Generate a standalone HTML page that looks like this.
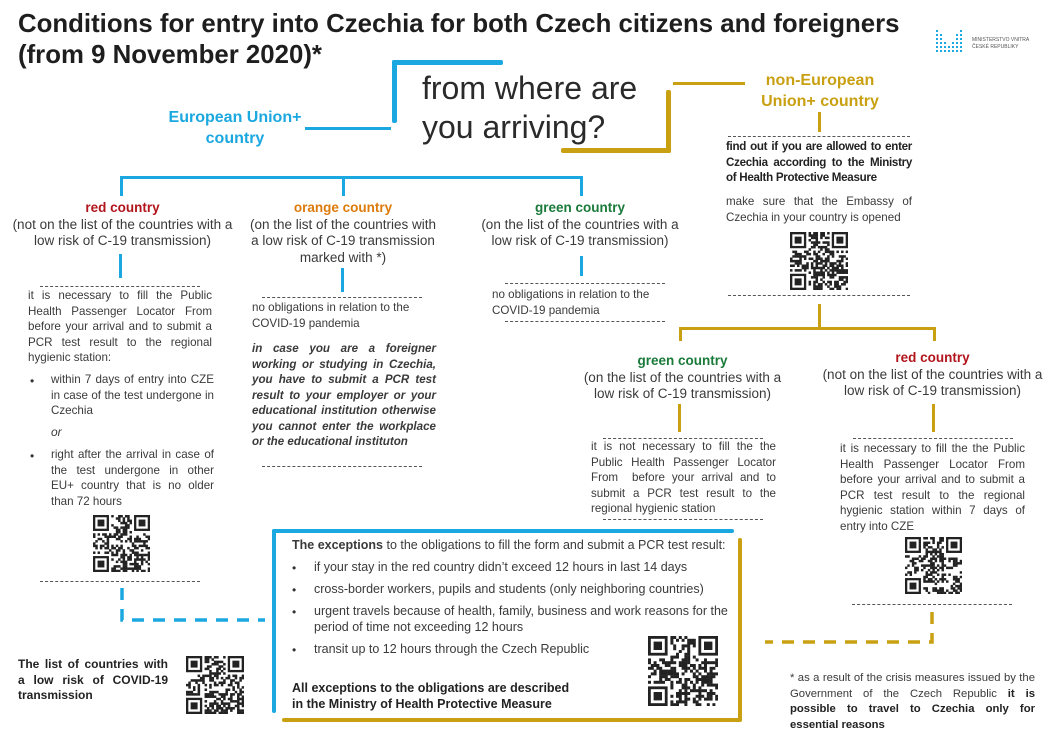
<!DOCTYPE html>
<html><head><meta charset="utf-8">
<style>
*{margin:0;padding:0;box-sizing:border-box}
body{width:1058px;height:742px;background:#fff;position:relative;overflow:hidden;font-family:"Liberation Sans",sans-serif;color:#333}
.a{position:absolute}
.ln{position:absolute}
.b{background:#1ba8e0}
.g{background:#c9a012}
.t{position:absolute;font-size:11.6px;line-height:15.5px;color:#3a3a3a;text-align:justify}
.h{position:absolute;text-align:center;font-size:13.5px;line-height:16.5px;color:#3a3a3a}
.h b{font-size:13.5px}
.d{position:absolute;border-top:1px dashed #555;height:0}
.red{color:#b2141c}.or{color:#dc7a0c}.gr{color:#1a7a3a}
.qr{position:absolute}
</style></head><body>

<div class="a" style="left:18px;top:9px;font-size:25.8px;line-height:31px;font-weight:bold;color:#1e1e1e;white-space:nowrap">Conditions for entry into Czechia for both Czech citizens and foreigners<br>(from 9 November 2020)*</div>

<!-- logo -->
<svg class="a" style="left:935px;top:28px" width="30" height="28">
<g fill="#1ba8e0">
<rect x="1" y="2" width="2" height="2"/><rect x="1" y="6" width="2" height="2"/><rect x="1" y="10" width="2" height="2"/><rect x="1" y="14" width="2" height="2"/><rect x="1" y="18" width="2" height="2"/><rect x="1" y="22" width="2" height="2"/>
<rect x="5" y="6" width="2" height="2"/><rect x="5" y="10" width="2" height="2"/><rect x="5" y="14" width="2" height="2"/><rect x="5" y="18" width="2" height="2"/><rect x="5" y="22" width="2" height="2"/>
<rect x="9" y="14" width="2" height="2"/><rect x="9" y="18" width="2" height="2"/><rect x="9" y="22" width="2" height="2"/>
<rect x="13" y="18" width="2" height="2"/><rect x="13" y="22" width="2" height="2"/>
<rect x="17" y="14" width="2" height="2"/><rect x="17" y="18" width="2" height="2"/><rect x="17" y="22" width="2" height="2"/>
<rect x="21" y="6" width="2" height="2"/><rect x="21" y="10" width="2" height="2"/><rect x="21" y="14" width="2" height="2"/><rect x="21" y="18" width="2" height="2"/><rect x="21" y="22" width="2" height="2"/>
<rect x="25" y="2" width="2" height="2"/><rect x="25" y="6" width="2" height="2"/><rect x="25" y="10" width="2" height="2"/><rect x="25" y="14" width="2" height="2"/><rect x="25" y="18" width="2" height="2"/><rect x="25" y="22" width="2" height="2"/>
</g></svg>
<div class="a" style="left:972px;top:37px;font-size:5px;line-height:7px;color:#555">MINISTERSTVO VNITRA<br>ČESKÉ REPUBLIKY</div>

<!-- center question -->
<div class="ln b" style="left:392px;top:60px;width:111px;height:5px;border-radius:2px"></div>
<div class="ln b" style="left:392px;top:60px;width:5px;height:63px;border-radius:2px"></div>
<div class="ln b" style="left:305px;top:127px;width:86px;height:3px"></div>
<div class="a" style="left:422px;top:69px;font-size:32px;line-height:39px;color:#2a2a2a">from where are<br>you arriving?</div>
<div class="ln g" style="left:673px;top:82px;width:72px;height:3px"></div>
<div class="ln g" style="left:666px;top:90px;width:5px;height:63px;border-radius:2px"></div>
<div class="ln g" style="left:561px;top:148px;width:110px;height:5px;border-radius:2px"></div>

<div class="a" style="left:140px;top:107px;width:190px;text-align:center;font-size:16px;line-height:21px;font-weight:bold;color:#1ba8e0">European Union+<br>country</div>
<div class="a" style="left:720px;top:70px;width:200px;text-align:center;font-size:16px;line-height:21px;font-weight:bold;color:#c9a012">non-European<br>Union+ country</div>

<!-- blue tree -->
<div class="ln b" style="left:120px;top:176px;width:463px;height:3px"></div>
<div class="ln b" style="left:120px;top:176px;width:3px;height:20px"></div>
<div class="ln b" style="left:342px;top:176px;width:3px;height:20px"></div>
<div class="ln b" style="left:580px;top:176px;width:3px;height:20px"></div>

<div class="h" style="left:5px;top:200px;width:235px"><b class="red">red country</b><br>(not on the list of the countries with a low risk of C-19 transmission)</div>
<div class="h" style="left:240px;top:200px;width:206px"><b class="or">orange country</b><br>(on the list of the countries with a&nbsp;low&nbsp;risk&nbsp;of&nbsp;C-19&nbsp;transmission marked with *)</div>
<div class="h" style="left:475px;top:200px;width:210px"><b class="gr">green country</b><br>(on the list of the countries with a low risk of C-19 transmission)</div>

<div class="ln b" style="left:119px;top:254px;width:3px;height:24px"></div>
<div class="ln b" style="left:341px;top:268px;width:3px;height:24px"></div>
<div class="ln b" style="left:580px;top:256px;width:3px;height:20px"></div>

<div class="d" style="left:40px;top:286px;width:160px"></div>
<div class="t" style="left:28px;top:288px;width:184px">it is necessary to fill the Public Health Passenger Locator From before your arrival and to submit a PCR test result to the regional hygienic station:</div>
<div class="a" style="left:30px;top:374px;font-size:12px">•</div>
<div class="t" style="left:51px;top:372px;width:163px">within 7 days of entry into CZE in case of the test undergone in Czechia</div>
<div class="a" style="left:51px;top:425px;font-size:12px;font-style:italic;color:#3a3a3a">or</div>
<div class="a" style="left:30px;top:449px;font-size:12px">•</div>
<div class="t" style="left:51px;top:447px;width:163px">right after the arrival in case of the test undergone in other EU+ country that is no older than 72 hours</div>
<div class="d" style="left:40px;top:581px;width:160px"></div>

<div class="d" style="left:262px;top:297px;width:160px"></div>
<div class="t" style="left:252px;top:300px;width:186px;text-align:left">no obligations in relation to the COVID-19 pandemia</div>
<div class="t" style="left:252px;top:341px;width:184px;font-weight:bold;font-style:italic;font-size:11.6px">in case you are a foreigner working or studying in Czechia, you have to submit a PCR test result to your employer or your educational institution otherwise you cannot enter the workplace or the educational instituton</div>
<div class="d" style="left:262px;top:466px;width:160px"></div>

<div class="d" style="left:505px;top:283px;width:160px"></div>
<div class="t" style="left:492px;top:287px;width:190px;text-align:left">no obligations in relation to the COVID-19 pandemia</div>
<div class="d" style="left:505px;top:321px;width:160px"></div>

<!-- non-EU side -->
<div class="ln g" style="left:818px;top:112px;width:3px;height:20px"></div>
<div class="d" style="left:728px;top:136px;width:182px"></div>
<div class="t" style="left:726px;top:139px;width:186px;font-weight:bold;color:#222;letter-spacing:-0.3px">find out if you are allowed to enter Czechia according to the Ministry of Health Protective Measure</div>
<div class="t" style="left:726px;top:194px;width:186px">make sure that the Embassy of Czechia in your country is opened</div>
<div class="d" style="left:728px;top:295px;width:182px"></div>
<div class="ln g" style="left:818px;top:304px;width:3px;height:24px"></div>
<div class="ln g" style="left:679px;top:327px;width:257px;height:3px"></div>
<div class="ln g" style="left:679px;top:327px;width:3px;height:14px"></div>
<div class="ln g" style="left:933px;top:327px;width:3px;height:14px"></div>

<div class="h" style="left:575px;top:353px;width:215px"><b class="gr">green country</b><br>(on the list of the countries with a low risk of C-19 transmission)</div>
<div class="h" style="left:815px;top:350px;width:235px"><b class="red">red country</b><br>(not on the list of the countries with a low risk of C-19 transmission)</div>
<div class="ln g" style="left:678px;top:404px;width:3px;height:28px"></div>
<div class="ln g" style="left:932px;top:404px;width:3px;height:28px"></div>

<div class="d" style="left:603px;top:438px;width:160px"></div>
<div class="t" style="left:591px;top:439px;width:185px">it is not necessary to fill the the Public Health Passenger Locator From &nbsp;before your arrival and to submit a PCR test result to the regional hygienic station</div>
<div class="d" style="left:603px;top:519px;width:160px"></div>

<div class="d" style="left:853px;top:438px;width:160px"></div>
<div class="t" style="left:840px;top:441px;width:185px">it is necessary to fill the the Public Health Passenger Locator From before your arrival and to submit a PCR test result to the regional hygienic station within 7 days of entry into CZE</div>
<div class="d" style="left:852px;top:604px;width:160px"></div>

<!-- exceptions box -->
<div class="ln b" style="left:272px;top:529px;width:462px;height:4px;border-radius:2px"></div>
<div class="ln b" style="left:272px;top:529px;width:4px;height:184px;border-radius:2px"></div>
<div class="ln g" style="left:738px;top:538px;width:4px;height:183px;border-radius:2px"></div>
<div class="ln g" style="left:282px;top:718px;width:460px;height:4px;border-radius:2px"></div>

<div class="t" style="left:292px;top:537px;width:460px;font-size:12.5px;text-align:left;line-height:16px"><b>The exceptions</b> to the obligations to fill the form and submit a PCR test result:</div>
<div class="a" style="left:292px;top:561px;font-size:12px">•</div>
<div class="t" style="left:314px;top:560px;width:420px;font-size:12.5px;text-align:left">if your stay in the red country didn’t exceed 12 hours in last 14 days</div>
<div class="a" style="left:292px;top:583px;font-size:12px">•</div>
<div class="t" style="left:314px;top:582px;width:420px;font-size:12.5px;text-align:left">cross-border workers, pupils and students (only neighboring countries)</div>
<div class="a" style="left:292px;top:605px;font-size:12px">•</div>
<div class="t" style="left:314px;top:604px;width:430px;font-size:12.5px;text-align:left">urgent travels because of health, family, business and work reasons for the period of time not exceeding 12 hours</div>
<div class="a" style="left:292px;top:643px;font-size:12px">•</div>
<div class="t" style="left:314px;top:642px;width:420px;font-size:12.5px;text-align:left">transit up to 12 hours through the Czech Republic</div>
<div class="t" style="left:292px;top:681px;width:340px;font-size:12.5px;text-align:left;font-weight:bold;color:#222">All exceptions to the obligations are described<br>in the Ministry of Health Protective Measure</div>

<!-- dashed connectors -->
<svg class="a" style="left:0;top:0" width="1058" height="742">
<path d="M122 588 V620 H265" fill="none" stroke="#1ba8e0" stroke-width="3.5" stroke-dasharray="12 9"/>
<path d="M932 612 V642 H765" fill="none" stroke="#c9a012" stroke-width="3.5" stroke-dasharray="12 9"/>
</svg>

<div class="t" style="left:18px;top:657px;width:150px;font-weight:bold;color:#222;font-size:12px">The list of countries with a low risk of COVID-19 transmission</div>

<div class="t" style="left:790px;top:671px;width:245px;font-size:11.3px">* as a result of the crisis measures issued by the Government of the Czech Republic <b style="color:#222">it is possible to travel to Czechia only for essential reasons</b></div>

<!-- QR codes -->
<svg class="qr" style="left:93px;top:515px" width="57" height="57" data-s="1"></svg>
<svg class="qr" style="left:790px;top:232px" width="58" height="58" data-s="2"></svg>
<svg class="qr" style="left:648px;top:636px" width="70" height="70" data-s="3"></svg>
<svg class="qr" style="left:905px;top:537px" width="57" height="57" data-s="4"></svg>
<svg class="qr" style="left:186px;top:656px" width="58" height="58" data-s="5"></svg>

<script>
document.querySelectorAll('svg.qr').forEach(function(s){
  var n=25,W=+s.getAttribute('width'),c=W/n,seed=+s.getAttribute('data-s')*9973;
  function r(){seed=(seed*16807)%2147483647;return seed/2147483647;}
  var h='';
  function fin(x,y){h+='<rect x="'+(x*c)+'" y="'+(y*c)+'" width="'+(7*c)+'" height="'+(7*c)+'" fill="#222"/><rect x="'+((x+1)*c)+'" y="'+((y+1)*c)+'" width="'+(5*c)+'" height="'+(5*c)+'" fill="#fff"/><rect x="'+((x+2)*c)+'" y="'+((y+2)*c)+'" width="'+(3*c)+'" height="'+(3*c)+'" fill="#222"/>';}
  for(var y=0;y<n;y++)for(var x=0;x<n;x++){
    if((x<8&&y<8)||(x>16&&y<8)||(x<8&&y>16))continue;
    if(r()<0.5)h+='<rect x="'+(x*c)+'" y="'+(y*c)+'" width="'+(c+0.2)+'" height="'+(c+0.2)+'" fill="#222"/>';
  }
  fin(0,0);fin(18,0);fin(0,18);
  s.innerHTML=h;
});
</script>
</body></html>
